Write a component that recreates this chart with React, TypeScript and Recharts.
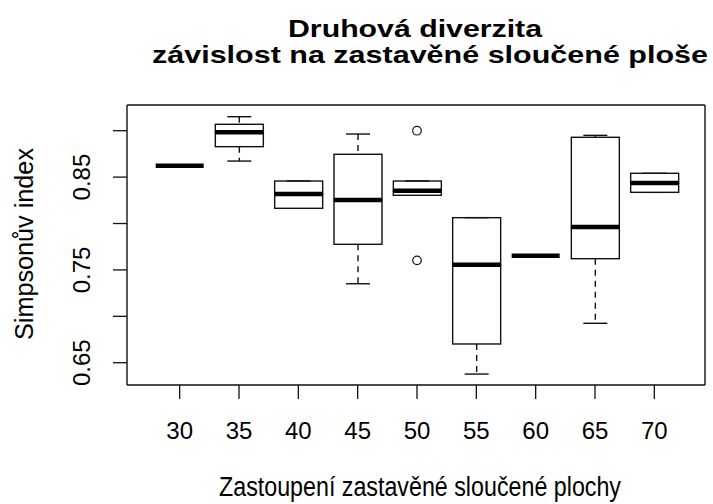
import React from "react";
import { ComposedChart, Bar, Scatter, XAxis, YAxis, ReferenceLine } from "recharts";

// Simpson index per share of built-up area (boxplot five-number summaries)
const categories = ["30", "35", "40", "45", "50", "55", "60", "65", "70"];
const minVals = [0.8623, 0.8673, 0.8164, 0.7351, 0.8304, 0.6378, 0.7653, 0.6925, 0.8336];
const q1Vals = [0.8623, 0.8828, 0.8164, 0.7776, 0.8304, 0.6702, 0.7653, 0.7621, 0.8336];
const medianVals = [0.8623, 0.8983, 0.8318, 0.8253, 0.8353, 0.7556, 0.7653, 0.7962, 0.8436];
const q3Vals = [0.8623, 0.9069, 0.8458, 0.8746, 0.8458, 0.8063, 0.7653, 0.8929, 0.8541];
const maxVals = [0.8623, 0.9151, 0.8458, 0.8964, 0.8458, 0.8063, 0.7653, 0.895, 0.8541];
const outliers = [
  { label: "50", value: 0.9 },
  { label: "50", value: 0.7603 },
];
const yTicks = [0.65, 0.7, 0.75, 0.8, 0.85, 0.9];
const yTickLabels = ["0.65", "0.75", "0.85"];
const yDomain = [0.626, 0.9277];

const W = 713;
const H = 504;
const MARGIN = { top: 105, right: 8, bottom: 59, left: 67 };
const Y_AXIS_W = 60;
const X_AXIS_H = 60;
const BOX = 48;
const INK = "#111";
const FONT = "'Liberation Sans', Arial, sans-serif";

const rows = categories.map((label, i) => ({
  label,
  base: minVals[i],
  wLow: q1Vals[i] - minVals[i],
  bLow: medianVals[i] - q1Vals[i],
  bHigh: q3Vals[i] - medianVals[i],
  wHigh: maxVals[i] - q3Vals[i],
  median: medianVals[i],
}));

const Empty = () => <g />;

const WhiskerLow = (p: any) => {
  const cx = p.x + p.width / 2;
  const yb = p.y + p.height;
  return (
    <g stroke={INK} strokeWidth={1.4}>
      <line x1={cx} x2={cx} y1={p.y} y2={yb} strokeDasharray="6 5" />
      <line x1={cx - p.width / 4} x2={cx + p.width / 4} y1={yb} y2={yb} />
    </g>
  );
};

const WhiskerHigh = (p: any) => {
  const cx = p.x + p.width / 2;
  return (
    <g stroke={INK} strokeWidth={1.4}>
      <line x1={cx} x2={cx} y1={p.y} y2={p.y + p.height} strokeDasharray="6 5" />
      <line x1={cx - p.width / 4} x2={cx + p.width / 4} y1={p.y} y2={p.y} />
    </g>
  );
};

const BoxPart = (p: any) => (
  <rect x={p.x} y={p.y} width={p.width} height={p.height} fill="#fff" stroke={INK} strokeWidth={1.4} />
);

const MedianLine = (p: any) => (
  <line x1={p.cx - BOX / 2} x2={p.cx + BOX / 2} y1={p.cy} y2={p.cy} stroke="#000" strokeWidth={4.6} />
);

const Outlier = (p: any) => (
  <circle cx={p.cx} cy={p.cy} r={4.3} fill="none" stroke={INK} strokeWidth={1.2} />
);

const XTick = (p: any) => (
  <text x={p.x} y={p.y} dy={38} textAnchor="middle" fontFamily={FONT} fontSize={24} fill="#000">
    {p.payload.value}
  </text>
);

const YTick = (p: any) => {
  const label = p.payload.value.toFixed(2);
  if (!yTickLabels.includes(label)) return <g />;
  return (
    <text
      transform={`translate(${p.x - 21},${p.y}) rotate(-90)`}
      textAnchor="middle"
      fontFamily={FONT}
      fontSize={24}
      fill="#000"
    >
      {label}
    </text>
  );
};

// right edge of the plot frame, from the chart margins
const frameRight = W - MARGIN.right;
const frameTop = MARGIN.top;
const frameBottom = H - MARGIN.bottom - X_AXIS_H;

export default function App() {
  return (
    <div style={{ position: "absolute", left: 0, top: 0, width: W, height: H, background: "#fff" }}>
      <ComposedChart width={W} height={H} data={rows} margin={MARGIN}>
        <XAxis
          dataKey="label"
          type="category"
          allowDuplicatedCategory={false}
          padding={{ left: 23, right: 21 }}
          height={X_AXIS_H}
          tick={<XTick />}
          tickSize={14}
          tickLine={{ stroke: INK, strokeWidth: 1.3 }}
          axisLine={{ stroke: INK, strokeWidth: 1.4 }}
          interval={0}
        />
        <YAxis
          type="number"
          domain={yDomain}
          allowDataOverflow
          ticks={yTicks}
          width={Y_AXIS_W}
          tick={<YTick />}
          tickSize={14}
          tickLine={{ stroke: INK, strokeWidth: 1.3 }}
          axisLine={{ stroke: INK, strokeWidth: 1.4 }}
        />
        <Bar dataKey="base" stackId="b" barSize={BOX} shape={<Empty />} isAnimationActive={false} />
        <Bar dataKey="wLow" stackId="b" barSize={BOX} shape={<WhiskerLow />} isAnimationActive={false} />
        <Bar dataKey="bLow" stackId="b" barSize={BOX} shape={<BoxPart />} isAnimationActive={false} />
        <Bar dataKey="bHigh" stackId="b" barSize={BOX} shape={<BoxPart />} isAnimationActive={false} />
        <Bar dataKey="wHigh" stackId="b" barSize={BOX} shape={<WhiskerHigh />} isAnimationActive={false} />
        <Scatter dataKey="median" shape={<MedianLine />} isAnimationActive={false} />
        <Scatter data={outliers} dataKey="value" shape={<Outlier />} isAnimationActive={false} />
        {/* top edge of the plot frame */}
        <ReferenceLine y={yDomain[1]} stroke={INK} strokeWidth={1.4} ifOverflow="visible" />
      </ComposedChart>
      <svg
        width={W}
        height={H}
        style={{ position: "absolute", left: 0, top: 0, pointerEvents: "none" }}
      >
        <line x1={frameRight} x2={frameRight} y1={frameTop} y2={frameBottom} stroke={INK} strokeWidth={1.4} />
        <text x={415} y={37} textAnchor="middle" fontFamily={FONT} fontWeight="bold" fontSize={24}
          textLength={254} lengthAdjust="spacingAndGlyphs" fill="#000">
          Druhová diverzita
        </text>
        <text x={430} y={63} textAnchor="middle" fontFamily={FONT} fontWeight="bold" fontSize={24}
          textLength={556} lengthAdjust="spacingAndGlyphs" fill="#000">
          závislost na zastavěné sloučené ploše
        </text>
        <text x={420} y={496} textAnchor="middle" fontFamily={"'Liberation Sans Narrow', " + FONT} fontSize={27}
          textLength={402} lengthAdjust="spacingAndGlyphs" fill="#000">
          Zastoupení zastavěné sloučené plochy
        </text>
        <text transform="translate(33,244) rotate(-90)" textAnchor="middle" fontFamily={FONT} fontSize={25}
          textLength={192} lengthAdjust="spacingAndGlyphs" fill="#000">
          Simpsonův index
        </text>
      </svg>
    </div>
  );
}
